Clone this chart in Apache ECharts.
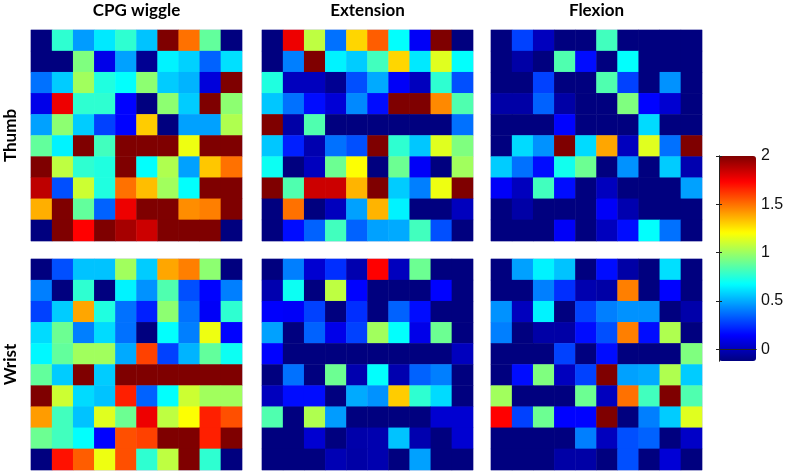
<!DOCTYPE html>
<html>
<head>
<meta charset="utf-8">
<script src="https://cdn.jsdelivr.net/npm/echarts@6/dist/echarts.min.js"></script>
<style>
  html, body { margin: 0; padding: 0; background: #fff; }
  #chart { width: 787px; height: 473px; }
</style>
</head>
<body>
<div id="chart"></div>
<script>
// column / row names
const columnNames = ['CPG wiggle', 'Extension', 'Flexion']
const rowNames = ['Thumb', 'Wrist']
const cellIndex = ['1', '2', '3', '4', '5', '6', '7', '8', '9', '10']
const colorbarTicks = [0, 0.5, 1, 1.5, 2]

// values, row by row from the top
const thumbCpg = [
  [-0.12, 0.77, 0.47, 0.63, 0.77, 0.55, 2.0, 1.5, 0.88, -0.12],
  [-0.12, -0.12, 0.94, 0.1, 0.48, -0.08, 0.65, 0.58, 0.35, 0.61],
  [0.38, 0.57, 1.01, 0.74, 0.68, 0.97, 0.57, 0.52, 0.07, 2.0],
  [0.1, 1.77, 0.77, 0.77, 0.15, -0.12, 0.97, 0.57, 2.0, 0.97],
  [0.48, 0.97, 0.57, 0.28, 0.15, 1.31, -0.12, 0.48, 0.48, 1.04],
  [0.88, 0.65, 2.0, 0.81, 2.0, 2.0, 2.0, 1.17, 2.0, 2.0],
  [2.0, 1.07, 0.77, 0.74, 2.0, 0.68, 1.04, 0.48, 1.32, 1.5],
  [1.87, 0.31, 1.1, 0.74, 1.5, 1.34, 1.01, 0.68, 2.0, 2.0],
  [1.37, 2.0, 0.88, 0.35, 1.77, 2.0, 2.0, 1.44, 1.47, 2.0],
  [-0.12, 2.0, 1.735, 2.0, 1.92, 1.84, 2.0, 2.0, 2.0, -0.12]
]
const thumbExt = [
  [-0.12, 1.77, 1.07, 0.38, 1.29, 1.54, 0.68, 0.13, 2.0, -0.12],
  [-0.12, 0.41, 2.0, 0.65, 0.57, 0.81, 1.29, 0.63, 1.14, 0.68],
  [0.74, 0.01, 0.01, -0.08, 0.31, 0.5, 0.13, 0.01, 0.77, 0.31],
  [0.56, 0.38, 0.17, 0.06, 0.43, 0.17, 2.0, 2.0, 1.45, 0.84],
  [2.0, -0.04, 0.84, -0.12, -0.12, -0.12, -0.12, -0.12, -0.12, 0.38],
  [0.56, 0.21, -0.02, 0.38, 0.31, 2.0, 0.77, 0.56, 1.14, 0.94],
  [0.7, -0.12, 0.01, 0.9, 1.2, -0.12, 0.9, 0.13, -0.12, 1.01],
  [2.0, 0.84, 1.84, 1.84, 1.36, 2.0, 0.57, 0.41, 1.17, 2.0],
  [-0.12, 1.5, -0.12, 0.01, 0.48, 1.36, 0.65, -0.12, -0.12, 0.01],
  [-0.12, 0.17, 0.35, 0.81, 0.35, 0.48, 0.5, 0.81, 0.31, -0.12]
]
const thumbFlex = [
  [-0.12, 0.28, 0.01, -0.12, -0.12, 0.81, -0.12, -0.12, -0.12, -0.12],
  [-0.12, -0.04, -0.12, 0.84, 0.17, -0.12, 0.68, -0.12, -0.12, -0.12],
  [-0.12, -0.12, 0.28, -0.12, -0.12, 0.84, 0.28, -0.12, 0.45, -0.12],
  [-0.04, -0.04, 0.35, -0.04, -0.12, -0.12, 0.94, 0.15, 0.05, -0.12],
  [-0.12, -0.12, -0.12, 0.15, -0.12, -0.12, -0.12, 0.6, -0.12, -0.12],
  [-0.12, 0.6, 0.45, 2.0, 0.6, 1.39, 0.01, 1.14, 0.38, 2.0],
  [0.57, 0.38, 0.17, 0.71, 0.9, -0.12, 0.45, -0.12, 0.57, -0.02],
  [0.13, 0.01, 0.81, 0.17, -0.12, 0.01, -0.12, -0.12, -0.12, 0.48],
  [-0.12, -0.04, -0.12, -0.12, -0.12, 0.13, -0.02, -0.12, -0.12, -0.12],
  [-0.12, -0.12, -0.12, 0.13, -0.12, 0.01, 0.17, 0.68, 0.38, -0.12]
]
const wristCpg = [
  [-0.12, 0.31, 0.55, 0.55, 1.01, 0.57, 1.39, 1.47, 0.97, -0.12],
  [0.41, -0.12, 0.77, -0.12, 0.65, 0.45, 0.84, 0.31, 0.15, 0.41],
  [0.28, 0.57, 1.39, 0.74, 0.38, 0.21, 0.97, 0.38, 0.13, 0.77],
  [0.6, 0.9, 0.41, 0.6, 0.38, -0.12, 0.68, 0.41, 1.17, 0.15],
  [0.66, 0.88, 1.01, 1.01, 0.5, 1.6, 0.28, 0.52, 0.88, 0.7],
  [0.88, 0.57, 2.0, 0.57, 2.0, 2.0, 2.0, 2.0, 2.0, 2.0],
  [2.0, 1.1, 0.6, 0.55, 1.67, 0.35, 0.68, 1.1, 1.01, 1.01],
  [1.41, 0.81, 0.55, 1.14, 0.9, 1.77, 1.07, 1.2, 1.67, 1.57],
  [0.9, 0.81, 0.68, 0.15, 1.57, 1.6, 2.0, 2.0, 1.67, 2.0],
  [-0.12, 1.7, 1.54, 1.17, 1.57, 0.77, 1.07, 2.0, 0.77, -0.12]
]
const wristExt = [
  [-0.12, 0.41, 0.05, 0.24, -0.02, 1.735, 0.01, 0.9, -0.12, -0.12],
  [-0.02, 0.7, -0.12, 1.07, 0.15, -0.12, -0.12, -0.12, 0.15, -0.12],
  [0.14, 0.13, 0.28, -0.12, 0.24, -0.12, 0.35, 0.17, -0.12, -0.12],
  [0.48, -0.12, 0.35, 0.1, 0.28, 1.01, 0.68, 0.1, 0.9, -0.12],
  [0.15, -0.12, -0.12, -0.12, -0.12, -0.12, -0.12, -0.12, -0.12, 0.01],
  [-0.12, 0.38, -0.12, 0.9, -0.02, 0.68, -0.02, 0.35, 0.41, -0.12],
  [0.01, 0.17, 0.17, -0.12, 0.5, 0.45, 1.31, 0.77, 0.6, -0.12],
  [0.84, -0.12, 1.04, 0.47, -0.12, -0.12, -0.12, -0.12, 0.05, 0.05],
  [-0.12, -0.12, 0.05, -0.12, -0.03, -0.02, 0.55, -0.02, -0.12, 0.05],
  [-0.12, -0.12, -0.12, -0.01, -0.04, -0.02, -0.12, 0.48, -0.12, -0.12]
]
const wristFlex = [
  [-0.12, 0.48, 0.65, 0.55, -0.12, 0.17, -0.04, -0.12, 0.61, -0.12],
  [-0.12, -0.12, 0.41, 0.24, -0.02, -0.04, 1.47, -0.12, 0.15, -0.12],
  [0.45, 0.01, 0.65, -0.12, 0.28, 0.41, 0.45, 0.45, -0.12, -0.03],
  [0.41, -0.12, -0.04, -0.04, 0.17, 0.31, 1.47, 0.17, 1.04, -0.12],
  [-0.12, -0.12, -0.12, 0.28, -0.12, 0.17, -0.12, -0.12, -0.12, 0.94],
  [-0.12, 0.17, 0.94, 0.01, 0.28, 2.0, 0.48, 0.5, 1.04, 0.57],
  [1.01, -0.12, -0.12, -0.12, 0.9, 0.01, 1.5, 0.81, 2.0, 0.84],
  [1.735, 0.28, 0.9, 0.15, 0.15, 2.0, -0.12, 0.41, 0.57, 1.14],
  [-0.12, -0.12, -0.12, -0.12, 0.41, 0.01, 0.31, 0.35, -0.12, 0.03],
  [-0.12, -0.12, -0.12, -0.04, -0.04, -0.12, 0.31, -0.12, 0.06, -0.12]
]

const panels = [thumbCpg, thumbExt, thumbFlex, wristCpg, wristExt, wristFlex]
const jet = ['#00007f', '#0000ff', '#007fff', '#00ffff', '#7fff7f', '#ffff00', '#ff7f00', '#ff0000', '#7f0000']

const chart = echarts.init(document.getElementById('chart'))

const lefts = [31, 262, 491]
const tops = [30, 259]
const grid = []
const xAxis = []
const yAxis = []
const series = []

panels.forEach((m, i) => {
  const col = i % 3
  const row = Math.floor(i / 3)
  grid.push({
    left: lefts[col], top: tops[row], width: 211, height: 211,
    show: true, borderColor: '#c4c4e4', borderWidth: 1, backgroundColor: 'transparent'
  })
  xAxis.push({
    type: 'category', gridIndex: i, data: cellIndex,
    axisLine: { show: false }, axisTick: { show: false }, axisLabel: { show: false }, splitLine: { show: false }
  })
  yAxis.push({
    type: 'category', gridIndex: i, data: cellIndex, inverse: true,
    name: col === 0 ? rowNames[row] : '',
    nameLocation: 'middle', nameRotate: 90, nameGap: 12,
    nameTextStyle: { fontFamily: 'Lato', fontWeight: 'bold', fontSize: 17, color: '#000' },
    axisLine: { show: false }, axisTick: { show: false }, axisLabel: { show: false }, splitLine: { show: false }
  })
  const data = []
  m.forEach((r, y) => r.forEach((v, x) => data.push([x, y, v])))
  series.push({
    type: 'heatmap', xAxisIndex: i, yAxisIndex: i, data: data,
    itemStyle: { borderWidth: 0 },
    emphasis: { disabled: true }, progressive: 0
  })
})

// colorbar frame and its labels
grid.push({ left: 719, top: 156, width: 37, height: 205, show: false })
xAxis.push({ type: 'value', gridIndex: 6, min: 0, max: 1, position: 'bottom', z: 5,
  axisLine: { show: true, lineStyle: { color: '#222' } }, axisTick: { show: false }, axisLabel: { show: false }, splitLine: { show: false } })
xAxis.push({ type: 'value', gridIndex: 6, min: 0, max: 1, position: 'top', z: 5,
  axisLine: { show: true, lineStyle: { color: '#222' } }, axisTick: { show: false }, axisLabel: { show: false }, splitLine: { show: false } })
yAxis.push({ type: 'value', gridIndex: 6, min: -0.12, max: 2, position: 'right', z: 5,
  axisLine: { show: true, lineStyle: { color: '#222' } },
  axisTick: { show: true, inside: true, length: 3, customValues: colorbarTicks, lineStyle: { color: '#222' } },
  axisLabel: { show: true, customValues: colorbarTicks, margin: 5, fontFamily: 'Liberation Sans', fontSize: 16, color: '#111' },
  splitLine: { show: false } })
yAxis.push({ type: 'value', gridIndex: 6, min: -0.12, max: 2, position: 'left', z: 5,
  axisLine: { show: true, lineStyle: { color: '#222' } },
  axisTick: { show: true, inside: true, length: 3, customValues: colorbarTicks, lineStyle: { color: '#222' } },
  axisLabel: { show: false }, splitLine: { show: false } })

const option = {
  animation: false,
  grid: grid,
  xAxis: xAxis,
  yAxis: yAxis,
  visualMap: {
    type: 'continuous', min: -0.12, max: 2,
    seriesIndex: [0, 1, 2, 3, 4, 5],
    inRange: { color: jet },
    orient: 'vertical', left: 719, top: 156,
    itemWidth: 37, itemHeight: 205, padding: 0,
    calculable: false, hoverLink: false, text: null, showLabel: false, z: 1
  },
  graphic: columnNames.map((t, c) => ({
    type: 'text', x: lefts[c] + 105.5, y: 11,
    style: { text: t, textAlign: 'center', textVerticalAlign: 'middle',
      font: 'bold 17px Lato', fill: '#000' }
  })),
  series: series
}

chart.setOption(option)
</script>
</body>
</html>
